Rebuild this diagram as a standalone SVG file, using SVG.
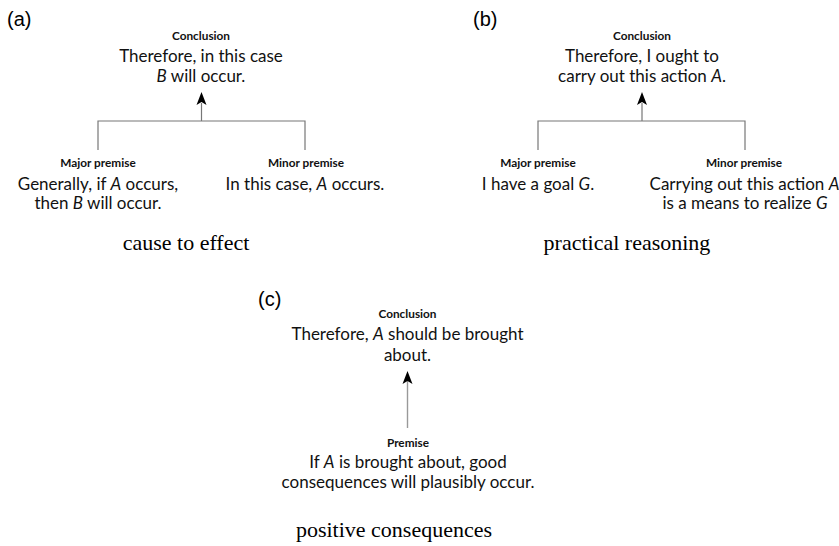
<svg xmlns="http://www.w3.org/2000/svg" width="839" height="546" viewBox="0 0 839 546">
<style>
.pl{font-family:"Liberation Sans",Arial,sans-serif;font-size:20px;fill:#000}
.hd{font-family:Lato,"Open Sans",sans-serif;font-weight:bold;font-size:11.8px;fill:#111;text-anchor:middle}
.tx{font-family:Lato,"Open Sans",sans-serif;font-size:17px;fill:#111;text-anchor:middle}
.cap{font-family:"Liberation Serif","Times New Roman",serif;font-size:22px;fill:#000;text-anchor:middle}
.ln{stroke:#777;stroke-width:1.2;fill:none}
.ln2{stroke:#999;stroke-width:1.4;fill:none}
</style>
<defs>
<path id="ah" d="M0,0 L5,13 L0,10 L-5,13 Z" fill="#000"/>
</defs>
<rect width="839" height="546" fill="#fff"/>
<text class="pl" x="7" y="26">(a)</text>
<text class="pl" x="473" y="26">(b)</text>
<text class="pl" x="258" y="306">(c)</text>
<g id="connectors">
<path class="ln" d="M201.5,103 V121 M98,150 V121 H305 V150"/>
<use href="#ah" x="201.5" y="92"/>
<path class="ln" d="M642,103 V121 M538,150 V121 H745 V150"/>
<use href="#ah" x="642" y="92"/>
<path class="ln2" d="M407.5,381 V428"/>
<use href="#ah" x="407.5" y="371"/>
</g>
<g id="a-conclusion">
<text class="hd" x="201" y="40">Conclusion</text>
<text class="tx" x="201" y="61.5">Therefore, in this case</text>
<text class="tx" x="201" y="82"><tspan font-style="italic">B</tspan> will occur.</text>
</g>
<g id="a-major">
<text class="hd" x="98" y="167">Major premise</text>
<text class="tx" x="98" y="190">Generally, if <tspan font-style="italic">A</tspan> occurs,</text>
<text class="tx" x="98" y="209">then <tspan font-style="italic">B</tspan> will occur.</text>
</g>
<g id="a-minor">
<text class="hd" x="306" y="167">Minor premise</text>
<text class="tx" x="305" y="190">In this case, <tspan font-style="italic">A</tspan> occurs.</text>
</g>
<text class="cap" x="186" y="250">cause to effect</text>
<g id="b-conclusion">
<text class="hd" x="642" y="40">Conclusion</text>
<text class="tx" x="642" y="61.5">Therefore, I ought to</text>
<text class="tx" x="642" y="82">carry out this action <tspan font-style="italic">A</tspan>.</text>
</g>
<g id="b-major">
<text class="hd" x="538" y="167">Major premise</text>
<text class="tx" x="538" y="190">I have a goal <tspan font-style="italic">G</tspan>.</text>
</g>
<g id="b-minor">
<text class="hd" x="744" y="167">Minor premise</text>
<text class="tx" x="744.5" y="190">Carrying out this action <tspan font-style="italic">A</tspan></text>
<text class="tx" x="745" y="209">is a means to realize <tspan font-style="italic">G</tspan></text>
</g>
<text class="cap" x="627" y="250">practical reasoning</text>
<g id="c-conclusion">
<text class="hd" x="407.5" y="318">Conclusion</text>
<text class="tx" x="407.5" y="339.5">Therefore, <tspan font-style="italic">A</tspan> should be brought</text>
<text class="tx" x="407.5" y="361">about.</text>
</g>
<g id="c-premise">
<text class="hd" x="408" y="447">Premise</text>
<text class="tx" x="408" y="468">If <tspan font-style="italic">A</tspan> is brought about, good</text>
<text class="tx" x="408" y="488">consequences will plausibly occur.</text>
</g>
<text class="cap" x="394" y="537">positive consequences</text>
</svg>
